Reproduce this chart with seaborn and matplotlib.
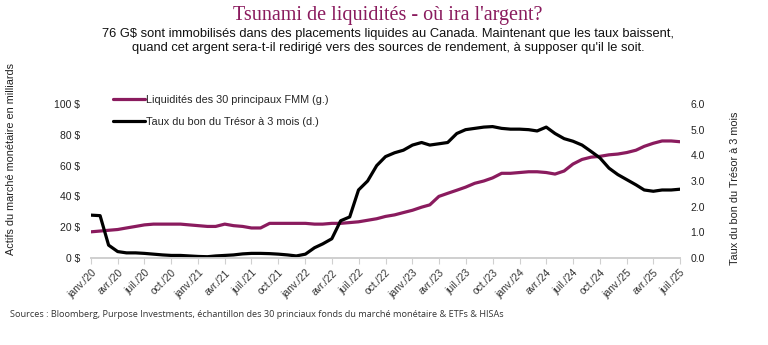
import numpy as np
import pandas as pd
import matplotlib
matplotlib.use("Agg")
import matplotlib.pyplot as plt
import matplotlib.dates as mdates
import seaborn as sns

# ---- data ----
months = pd.date_range("2020-01-01", "2025-07-01", freq="MS")
liquidity = [17, 17.5, 18, 18.5, 19.5, 20.5, 21.5, 22, 22, 22, 22, 21.5,
             21, 20.5, 20.5, 22, 21, 20.5, 19.5, 19.5, 22.5, 22.5, 22.5, 22.5,
             22.5, 22, 22, 22.5, 22.5, 23, 23.5, 24.5, 25.5, 27, 28, 29.5,
             31, 33, 34.5, 40, 42, 44, 46, 48.5, 50, 52, 55, 55,
             55.5, 56, 56, 55.5, 54.5, 56.5, 61, 64, 65.5, 66, 67, 67.5,
             68.5, 70, 72.5, 74.5, 76, 76, 75.5]
tbill = [1.67, 1.65, 0.5, 0.25, 0.2, 0.2, 0.18, 0.15, 0.12, 0.1, 0.1, 0.08,
         0.06, 0.05, 0.08, 0.1, 0.12, 0.16, 0.18, 0.18, 0.17, 0.15, 0.12, 0.08,
         0.15, 0.4, 0.55, 0.75, 1.45, 1.6, 2.65, 3.0, 3.6, 3.95, 4.1, 4.2,
         4.4, 4.5, 4.4, 4.45, 4.5, 4.85, 5.0, 5.05, 5.1, 5.12, 5.05, 5.02,
         5.02, 5.0, 4.95, 5.1, 4.85, 4.65, 4.55, 4.4, 4.15, 3.9, 3.5, 3.25,
         3.05, 2.85, 2.65, 2.6, 2.65, 2.65, 2.68]
tick_labels = ["janv./20", "avr./20", "juil./20", "oct./20",
               "janv./21", "avr./21", "juil./21", "oct./21",
               "janv./22", "avr./22", "juil./22", "oct./22",
               "janv./23", "avr./23", "juil./23", "oct./23",
               "janv./24", "avr./24", "juil./24", "oct./24",
               "janv./25", "avr./25", "juil./25"]
left_ticks = [0, 20, 40, 60, 80, 100]
right_ticks = [0, 1, 2, 3, 4, 5, 6]

df = pd.DataFrame({"date": months, "liq": liquidity, "rate": tbill})

sns.set_theme(style="white")
plt.rcParams["font.family"] = ["Liberation Sans", "DejaVu Sans"]

PURPLE = "#8A1B5E"
fig = plt.figure(figsize=(7.68, 3.45), dpi=100)
ax = fig.add_axes([91/768, 1-258/345, (680-91)/768, (258-104)/345])
ax2 = ax.twinx()

sns.lineplot(data=df, x="date", y="liq", ax=ax, color=PURPLE, linewidth=2.3,
             label="Liquidités des 30 principaux FMM (g.)", legend=False)
sns.lineplot(data=df, x="date", y="rate", ax=ax2, color="black", linewidth=2.3,
             label="Taux du bon du Trésor à 3 mois (d.)", legend=False)

ax.set_ylim(0, 100)
ax2.set_ylim(0, 6)
ax.set_xlim(months[0], months[-1])

tick_dates = pd.date_range("2020-01-01", "2025-07-01", freq="QS")
ax.set_xticks(tick_dates)
ax.set_xticklabels(tick_labels, rotation=45, ha="right", rotation_mode="anchor",
                   fontsize=7.5, color="#333333")
ax.set_yticks(left_ticks)
ax.set_yticklabels([f"{v} $" for v in left_ticks], fontsize=7.5, color="#222222")
ax2.set_yticks(right_ticks)
ax2.set_yticklabels([f"{v:.1f}" for v in right_ticks], fontsize=7.5, color="#222222")

for a in (ax, ax2):
    for s in ("top", "left", "right"):
        a.spines[s].set_visible(False)
    a.spines["bottom"].set_color("#d0d0d0")
    a.grid(False)
    a.set_xlabel("")

ax.tick_params(axis="x", which="major", length=4, color="#d0d0d0", width=0.8,
               pad=3, bottom=True, direction="out")
ax.tick_params(axis="y", length=0, pad=8)
ax2.tick_params(axis="y", length=0, pad=7.5)

ax.set_ylabel("Actifs du marché monétaire en milliards", fontsize=7.8,
              color="#222222")
ax.yaxis.set_label_coords(-0.128, 0.64)
ax2.set_ylabel("Taux du bon du Trésor à 3 mois", fontsize=7.8, color="#222222")
ax2.yaxis.set_label_coords(1.085, 0.45)

h1, l1 = ax.get_legend_handles_labels()
h2, l2 = ax2.get_legend_handles_labels()
leg = ax.legend(h1 + h2, l1 + l2, loc="upper left", bbox_to_anchor=(0.02, 1.12),
                frameon=False, fontsize=7.8, handlelength=3.0, handletextpad=0.1,
                labelspacing=1.1)

fig.text(0.505, 0.982, "Tsunami de liquidités - où ira l'argent?", ha="center",
         va="top", fontsize=14.5, color=PURPLE,
         family=["Liberation Serif", "DejaVu Serif"])
fig.text(0.505, 0.918,
         "76 G$ sont immobilisés dans des placements liquides au Canada. Maintenant que les taux baissent,\n"
         "quand cet argent sera-t-il redirigé vers des sources de rendement, à supposer qu'il le soit.",
         ha="center", va="top", fontsize=9.3, color="#111111", linespacing=1.2)
fig.text(0.013, 0.087,
         "Sources : Bloomberg, Purpose Investments, échantillon des 30 princiaux fonds du marché monétaire & ETFs & HISAs",
         ha="left", va="center", fontsize=6.6, color="#333333",
         family=["Open Sans", "DejaVu Sans"])

fig.savefig("out.png", dpi=100)
